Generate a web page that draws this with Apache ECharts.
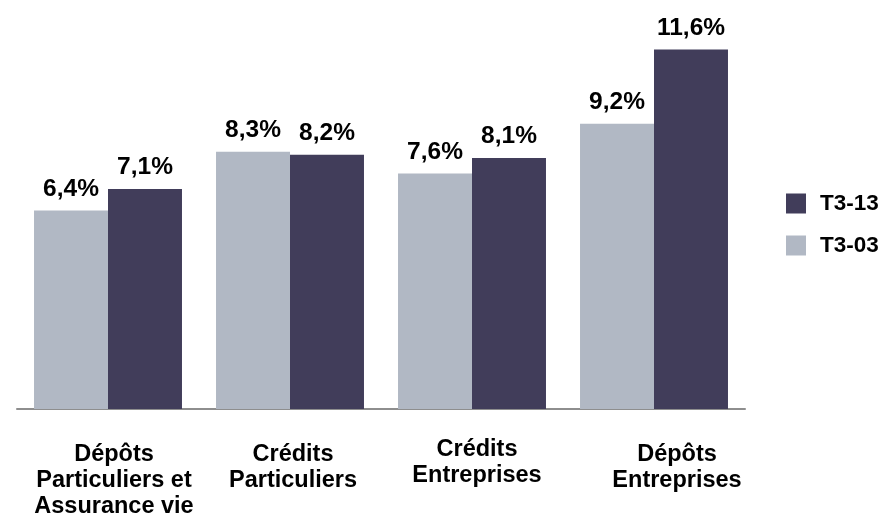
<!DOCTYPE html>
<html>
<head>
<meta charset="utf-8">
<script src="https://cdn.jsdelivr.net/npm/echarts@6/dist/echarts.min.js"></script>
<style>
  html, body { margin: 0; padding: 0; background: #ffffff; }
  #chart { width: 885px; height: 522px; }
</style>
</head>
<body>
<div id="chart"></div>
<script>
// Growth rates by segment, two periods
const categories = [
  'Dépôts\nParticuliers et\nAssurance vie',
  'Crédits\nParticuliers',
  'Crédits\nEntreprises',
  'Dépôts\nEntreprises'
];
const seriesNames = ['T3-03', 'T3-13'];
const valuesT303 = [6.4, 8.3, 7.6, 9.2];
const valuesT313 = [7.1, 8.2, 8.1, 11.6];

const FONT = '"Liberation Sans", Arial, Helvetica, sans-serif';
const COLOR_LIGHT = '#b1b8c4';
const COLOR_DARK = '#413d5a';

// small per-label offsets for the category captions
const labelPads = [
  [5, 0, 0, 12],
  [5, 0, 0, 6],
  [0, 0, 0, 10],
  [5, 0, 0, 46]
];

const chart = echarts.init(document.getElementById('chart'), null, { renderer: 'canvas' });

const fmt = p => p.value.toFixed(1).replace('.', ',') + '%';

const valueLabel = {
  show: true,
  position: 'top',
  distance: 9,
  formatter: fmt,
  fontFamily: FONT,
  fontWeight: 'bold',
  fontSize: 24.5,
  color: '#000000'
};

chart.setOption({
  animation: false,
  backgroundColor: '#ffffff',
  grid: { left: 17, right: 140, top: 37, bottom: 113, containLabel: false },
  legend: {
    orient: 'vertical',
    left: 781,
    top: 187,
    data: ['T3-13', 'T3-03'],
    itemWidth: 20,
    itemHeight: 20,
    itemGap: 19,
    icon: 'rect',
    textStyle: {
      fontFamily: FONT,
      fontWeight: 'bold',
      fontSize: 22.5,
      color: '#000000',
      padding: [0, 0, 0, 9]
    }
  },
  xAxis: {
    type: 'category',
    data: categories.map((c, i) => ({
      value: c,
      textStyle: { padding: labelPads[i] }
    })),
    axisLine: { show: true, lineStyle: { color: '#8e8e8e', width: 2 } },
    axisTick: { show: false },
    axisLabel: {
      interval: 0,
      margin: 28,
      fontFamily: FONT,
      fontWeight: 'bold',
      fontSize: 23.5,
      lineHeight: 26,
      color: '#000000',
      align: 'center'
    }
  },
  yAxis: {
    type: 'value',
    min: 0,
    max: 12,
    show: false,
    splitLine: { show: false }
  },
  series: [
    {
      name: seriesNames[0],
      type: 'bar',
      data: valuesT303,
      barGap: '0%',
      barCategoryGap: '18.7%',
      itemStyle: { color: COLOR_LIGHT },
      label: valueLabel
    },
    {
      name: seriesNames[1],
      type: 'bar',
      data: valuesT313,
      barGap: '0%',
      barCategoryGap: '18.7%',
      itemStyle: { color: COLOR_DARK },
      label: valueLabel
    }
  ]
});
</script>
</body>
</html>
